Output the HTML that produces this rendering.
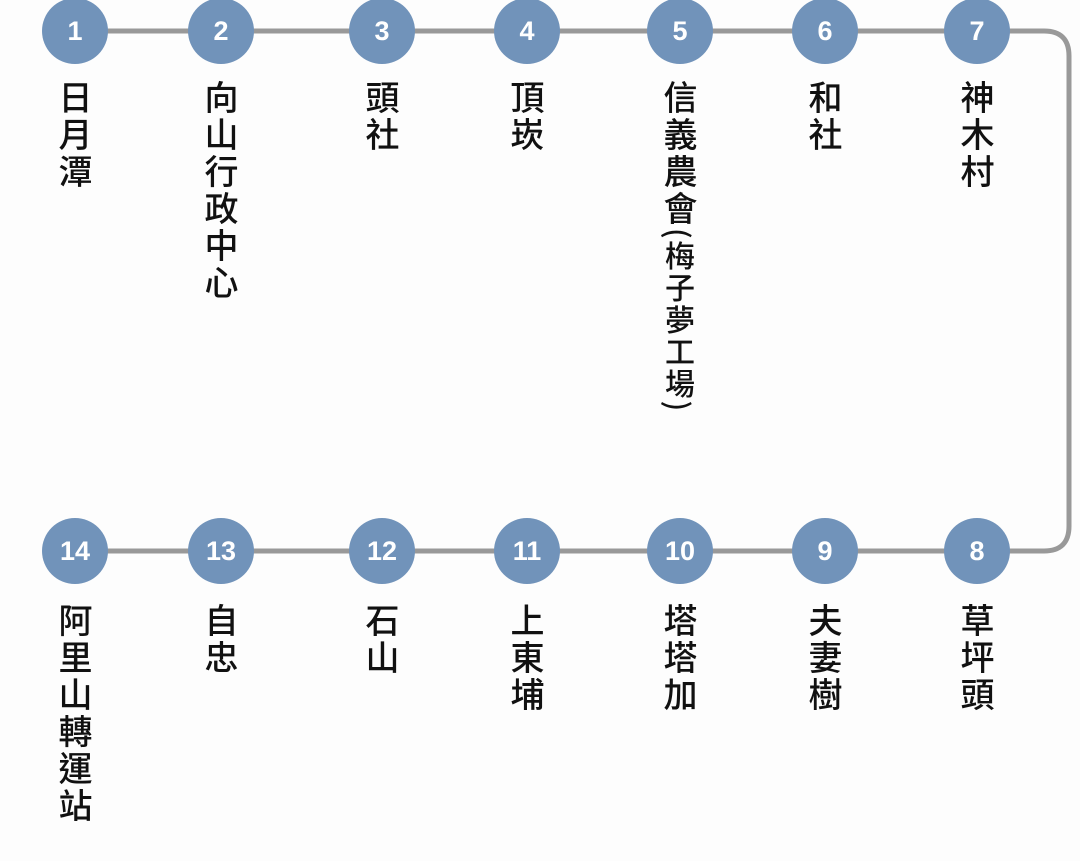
<!DOCTYPE html>
<html><head><meta charset="utf-8"><style>
body{margin:0;width:1080px;height:861px;background:#fdfdfd;position:relative;overflow:hidden;font-family:"Liberation Sans","Noto Sans CJK TC",sans-serif}
.c{position:absolute;width:66px;height:66px;border-radius:50%;background:#7193ba;color:#fff;font-weight:bold;font-size:27px;display:flex;align-items:center;justify-content:center}
.t{position:absolute;writing-mode:vertical-rl;font-size:34px;letter-spacing:3px;color:#111;width:44px;line-height:44px;font-weight:500;font-family:"Noto Sans CJK TC","WenQuanYi Zen Hei",sans-serif}
.s{font-size:30px;letter-spacing:2px}
</style></head><body>
<svg style="position:absolute;left:0;top:0" width="1080" height="861">
<path d="M75 31 H1044 Q1069 31 1069 56 V526 Q1069 551 1044 551 H75" fill="none" stroke="#999" stroke-width="5"/>
</svg>
<div class="c" style="left:42px;top:-2px">1</div>
<div class="c" style="left:188px;top:-2px">2</div>
<div class="c" style="left:349px;top:-2px">3</div>
<div class="c" style="left:494px;top:-2px">4</div>
<div class="c" style="left:647px;top:-2px">5</div>
<div class="c" style="left:792px;top:-2px">6</div>
<div class="c" style="left:944px;top:-2px">7</div>
<div class="c" style="left:42px;top:518px">14</div>
<div class="c" style="left:188px;top:518px">13</div>
<div class="c" style="left:349px;top:518px">12</div>
<div class="c" style="left:494px;top:518px">11</div>
<div class="c" style="left:647px;top:518px">10</div>
<div class="c" style="left:792px;top:518px">9</div>
<div class="c" style="left:944px;top:518px">8</div>
<div class="t" style="left:53px;top:80px">日月潭</div>
<div class="t" style="left:199px;top:80px">向山行政中心</div>
<div class="t" style="left:360px;top:80px">頭社</div>
<div class="t" style="left:505px;top:80px">頂崁</div>
<div class="t" style="left:658px;top:80px">信義農會<span class="s">(梅子夢工場)</span></div>
<div class="t" style="left:803px;top:80px">和社</div>
<div class="t" style="left:955px;top:80px">神木村</div>
<div class="t" style="left:53px;top:603px">阿里山轉運站</div>
<div class="t" style="left:199px;top:603px">自忠</div>
<div class="t" style="left:360px;top:603px">石山</div>
<div class="t" style="left:505px;top:603px">上東埔</div>
<div class="t" style="left:658px;top:603px">塔塔加</div>
<div class="t" style="left:803px;top:603px">夫妻樹</div>
<div class="t" style="left:955px;top:603px">草坪頭</div>
</body></html>
